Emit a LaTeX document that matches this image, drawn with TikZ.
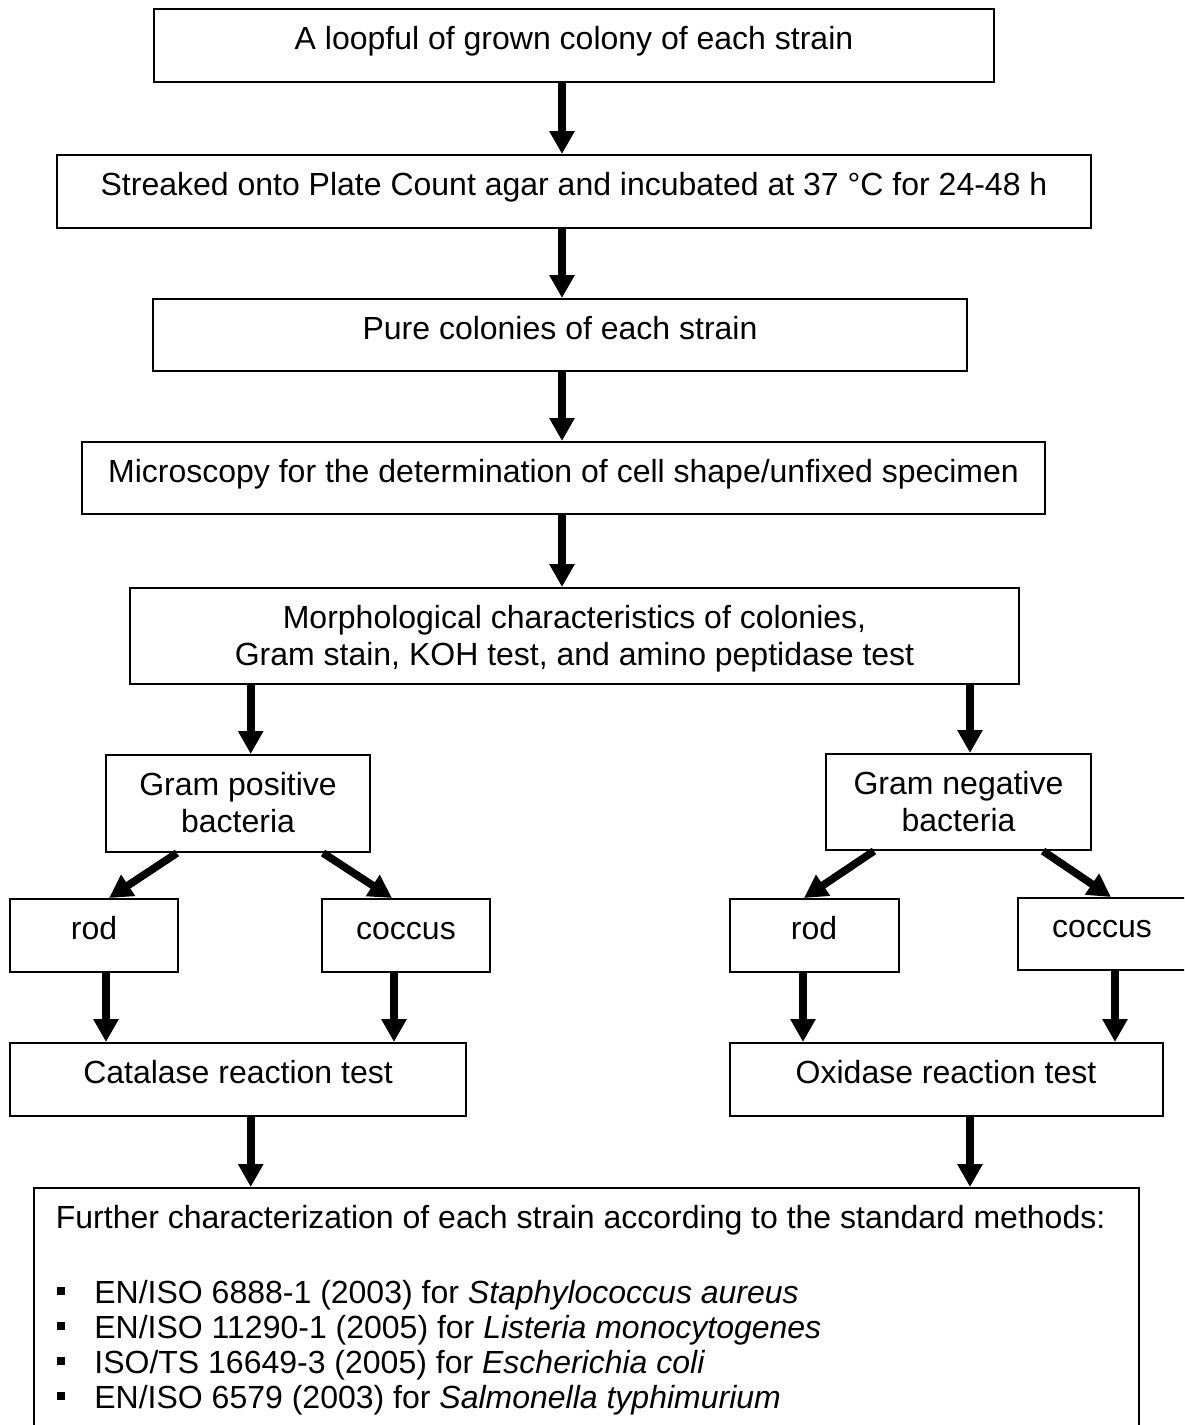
\documentclass[tikz,border=0pt]{standalone}
\usepackage{fontspec}
\setmainfont{Liberation Sans}
\usetikzlibrary{arrows.meta,fit}
\newcommand{\bulsq}{\makebox[18.5pt][l]{\rule[4pt]{4pt}{4pt}}}
\tikzset{
  box/.style={draw=black, line width=1pt, inner sep=0pt},
  txt/.style={inner sep=0pt, anchor=base, font=\fontsize{16pt}{18.5pt}\selectfont},
  arr/.style={line width=3.85pt, -{Triangle[width=12pt,length=11.5pt]}},
}
\begin{document}
\begin{tikzpicture}[x=0.5pt,y=-0.5pt]
\useasboundingbox (0,0) rectangle (1184,1425);
\clip (0,0) rectangle (1184,1425);
% boxes
\node[box, fit={(154,9) (994,82)}] (b1) {};
\node[box, fit={(57,155) (1091,228)}] (b2) {};
\node[box, fit={(153,299) (967,371)}] (b3) {};
\node[box, fit={(82,442) (1045,514)}] (b4) {};
\node[box, fit={(130,588) (1019,684)}] (b5) {};
\node[box, fit={(106,755) (370,852)}] (gp) {};
\node[box, fit={(826,754) (1091,850)}] (gn) {};
\node[box, fit={(10,899) (178,972)}] (rodl) {};
\node[box, fit={(322,899) (490,972)}] (cocl) {};
\node[box, fit={(730,899) (899,972)}] (rodr) {};
\node[box, fit={(1018,898) (1187,970)}] (cocr) {};
\node[box, fit={(10,1043) (466,1116)}] (cat) {};
\node[box, fit={(730,1043) (1163,1116)}] (oxi) {};
\node[box, fit={(34,1188) (1139,1430)}] (fin) {};
% texts
\node[txt] (t1) at (574,49) {A loopful of grown colony of each strain};
\node[txt] (t2) at (574,195) {Streaked onto Plate Count agar and incubated at 37 °C for 24-48 h};
\node[txt] (t3) at (560,339) {Pure colonies of each strain};
\node[txt] (t4) at (563.5,482) {Microscopy for the determination of cell shape/unfixed specimen};
\node[txt, align=center] (t5) at (574.5,665) {Morphological characteristics of colonies,\\Gram stain, KOH test, and amino peptidase test};
\node[txt, align=center] (t6) at (238,832) {Gram positive\\bacteria};
\node[txt, align=center] (t7) at (958.5,831) {Gram negative\\bacteria};
\node[txt] (t8) at (94,939) {rod};
\node[txt] (t9) at (406,939) {coccus};
\node[txt] (t10) at (814,939) {rod};
\node[txt] (t11) at (1102,937) {coccus};
\node[txt] (t12) at (238,1083) {Catalase reaction test};
\node[txt] (t13) at (946,1083) {Oxidase reaction test};
\node[txt, anchor=base west] (t14) at (55.5,1228) {Further characterization of each strain according to the standard methods:};
\node[txt, anchor=base west, align=left, font=\fontsize{16pt}{17.5pt}\selectfont] (t15) at (57,1408)
 {\bulsq EN/ISO 6888-1 (2003) for \textit{Staphylococcus aureus}\\
  \bulsq EN/ISO 11290-1 (2005) for \textit{Listeria monocytogenes}\\
  \bulsq ISO/TS 16649-3 (2005) for \textit{Escherichia coli}\\
  \bulsq EN/ISO 6579 (2003) for \textit{Salmonella typhimurium}};
% arrow x positions
\coordinate (xm) at (562,0);
\coordinate (xl) at (250.7,0);
\coordinate (xr) at (970,0);
\coordinate (xa) at (106,0);
\coordinate (xb) at (394,0);
\coordinate (xc) at (803,0);
\coordinate (xd) at (1115,0);
\coordinate (s1) at (177,0);
\coordinate (e1) at (109,0);
\coordinate (s2) at (323,0);
\coordinate (e2) at (392,0);
\coordinate (s3) at (874,0);
\coordinate (e3) at (804,0);
\coordinate (s4) at (1043,0);
\coordinate (e4) at (1111,0);
% arrows
\draw[arr] (b1.south -| xm) -- (b2.north -| xm);
\draw[arr] (b2.south -| xm) -- (b3.north -| xm);
\draw[arr] (b3.south -| xm) -- (b4.north -| xm);
\draw[arr] (b4.south -| xm) -- (b5.north -| xm);
\draw[arr] (b5.south -| xl) -- (gp.north -| xl);
\draw[arr] (b5.south -| xr) -- (gn.north -| xr);
\draw[arr] (gp.south -| s1) -- (rodl.north -| e1);
\draw[arr] (gp.south -| s2) -- (cocl.north -| e2);
\draw[arr] (gn.south -| s3) -- (rodr.north -| e3);
\draw[arr] (gn.south -| s4) -- (cocr.north -| e4);
\draw[arr] (rodl.south -| xa) -- (cat.north -| xa);
\draw[arr] (cocl.south -| xb) -- (cat.north -| xb);
\draw[arr] (rodr.south -| xc) -- (oxi.north -| xc);
\draw[arr] (cocr.south -| xd) -- (oxi.north -| xd);
\draw[arr] (cat.south -| xl) -- (fin.north -| xl);
\draw[arr] (oxi.south -| xr) -- (fin.north -| xr);
\end{tikzpicture}
\end{document}
